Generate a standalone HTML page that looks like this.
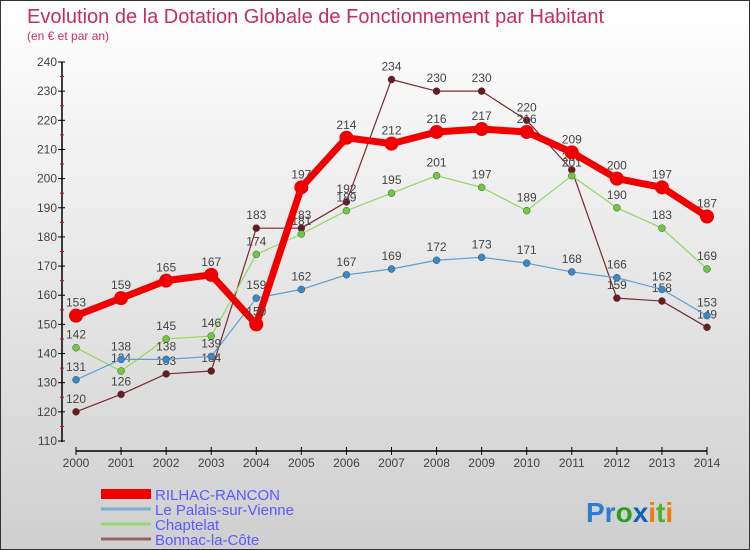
<!DOCTYPE html>
<html><head><meta charset="utf-8"><style>
body{margin:0}
#wrap{width:750px;height:550px;position:relative;background:linear-gradient(#ffffff,#cfcfcf);box-sizing:border-box;border:1px solid #333;overflow:hidden;font-family:"Liberation Sans",sans-serif}
svg text{font-family:"Liberation Sans",sans-serif}
</style></head><body>
<div id="wrap">
<svg id="s" width="750" height="550">
<text x="26" y="22" font-size="20" fill="#c0305a">Evolution de la Dotation Globale de Fonctionnement par Habitant</text>
<text x="26" y="39" font-size="12" fill="#c0305a">(en € et par an)</text>
<g id="g"></g>
<text x="585" y="521" font-size="28" font-weight="bold"><tspan fill="#2a7fd0">Pr</tspan><tspan fill="#2aa020">o</tspan><tspan fill="#1060c0">x</tspan><tspan fill="#f07a10">i</tspan><tspan fill="#50b030">t</tspan><tspan fill="#f07a10">i</tspan></text>
</svg>
</div>
<script>
const years=[2000,2001,2002,2003,2004,2005,2006,2007,2008,2009,2010,2011,2012,2013,2014];
const rilhac=[153,159,165,167,150,197,214,212,216,217,216,209,200,197,187];
const palais=[131,138,138,139,159,162,167,169,172,173,171,168,166,162,153];
const chaptelat=[142,134,145,146,174,181,189,195,201,197,189,201,190,183,169];
const bonnac=[120,126,133,134,183,183,192,234,230,230,220,203,159,158,149];
const yTicks=[110,120,130,140,150,160,170,180,190,200,210,220,230,240];
const names=["RILHAC-RANCON","Le Palais-sur-Vienne","Chaptelat","Bonnac-la-Côte"];
const NS="http://www.w3.org/2000/svg";
const g=document.getElementById('g');
const X=i=>75+i*(706-75)/14;
const Y=v=>440-(v-110)*(440-61)/130;
function el(t,a,p){const e=document.createElementNS(NS,t);for(const k in a)e.setAttribute(k,a[k]);(p||g).appendChild(e);return e;}
let e=el('line',{x1:61,y1:61,x2:61,y2:441,stroke:'#000','stroke-width':1.5});

e=el('line',{x1:75,y1:450,x2:706,y2:450,stroke:'#000','stroke-width':1.5});

yTicks.forEach(v=>{
 el('line',{x1:57,x2:64,y1:Y(v),y2:Y(v),stroke:'#000'});
 if(v<240)el('line',{x1:59,x2:63,y1:Y(v+5),y2:Y(v+5),stroke:'#e00'});
 const t=el('text',{x:56,y:Y(v)+4,'font-size':12,'text-anchor':'end',fill:'#444'});t.textContent=v;
 
});
years.forEach((y,i)=>{
 el('line',{x1:X(i),x2:X(i),y1:446,y2:454,stroke:'#000'});
 const t=el('text',{x:X(i),y:466,'font-size':12,'text-anchor':'middle',fill:'#444'});t.textContent=y;
 
});
const series=[[bonnac,'#7a2a30','#6a1a20',1.2,3.5],[chaptelat,'#90d860','#70c840',1.2,3.5],[palais,'#5aa0d0','#3a88c8',1.2,3.5],[rilhac,'#f00000','#f00000',7,7]];
const order=['bonnac','chaptelat','palais','rilhac'];
series.forEach((s,k)=>{
 const [d,lc,pc,w,r]=s;
 const p=el('polyline',{points:d.map((v,i)=>X(i)+','+Y(v)).join(' '),fill:'none',stroke:lc,'stroke-width':w,'stroke-linejoin':'round'});
 
 d.forEach((v,i)=>{
  const c=el('circle',{cx:X(i),cy:Y(v),r:r,fill:pc,stroke:k==3?'none':'#333','stroke-width':0.4});
  
  const t=el('text',{x:X(i),y:Y(v)-9,'font-size':12,'text-anchor':'middle',fill:'#444'});t.textContent=v;
  
 });
});
const lc=['#f00000','#7aaed0','#98d870','#9a6060'],lw=[10,3,3,3];
names.forEach((n,i)=>{
 const y=493+i*15;
 const l=el('line',{x1:100,x2:150,y1:y,y2:y,stroke:lc[i],'stroke-width':lw[i]});
 
 const t=el('text',{x:154,y:y+6,'font-size':15,fill:'#5a5aff'});t.textContent=n;
 
});
</script>
</body></html>
